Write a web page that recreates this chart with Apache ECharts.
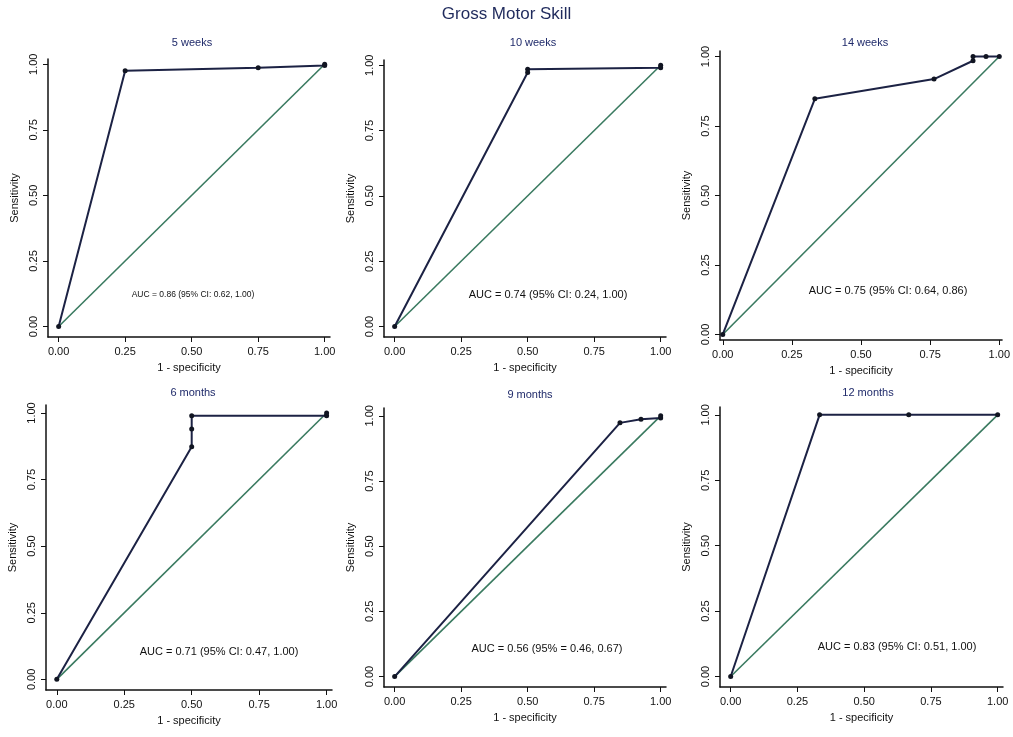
<!DOCTYPE html>
<html>
<head>
<meta charset="utf-8">
<title>Gross Motor Skill</title>
<script src="https://cdn.jsdelivr.net/npm/echarts@6/dist/echarts.min.js"></script>
<style>
  html, body { margin: 0; padding: 0; background: #fff; }
  #main { width: 1013px; height: 737px; }
</style>
</head>
<body>
<div id="main"></div>
<script>
// 各面板名称
var panelTitles = ['5 weeks', '10 weeks', '14 weeks', '6 months', '9 months', '12 months'];
// ROC 曲线数据 (1 - specificity)
var fpr5w = [0, 0.25, 0.75, 1, 1];
var fpr10w = [0, 0.5, 0.5, 1, 1];
var fpr14w = [0, 0.333, 0.764, 0.905, 0.905, 0.952, 1];
var fpr6m = [0, 0.5, 0.5, 0.5, 1, 1];
var fpr9m = [0, 0.847, 0.926, 1, 1];
var fpr12m = [0, 0.333, 0.667, 1];
// ROC 曲线数据 (sensitivity)
var sens5w = [0, 0.975, 0.987, 0.995, 1];
var sens10w = [0, 0.972, 0.985, 0.99, 1];
var sens14w = [0, 0.848, 0.919, 0.985, 1, 1, 1];
var sens6m = [0, 0.873, 0.94, 0.99, 0.99, 1];
var sens9m = [0, 0.973, 0.987, 0.992, 1];
var sens12m = [0, 1, 1, 1];
// 对角参考线
var refX = [0, 1];
var refY = [0, 1];
// AUC 文字
var aucTexts = [
  'AUC = 0.86 (95% CI: 0.62, 1.00)',
  'AUC = 0.74 (95% CI: 0.24, 1.00)',
  'AUC = 0.75 (95% CI: 0.64, 0.86)',
  'AUC = 0.71 (95% CI: 0.47, 1.00)',
  'AUC = 0.56 (95% = 0.46, 0.67)',
  'AUC = 0.83 (95% CI: 0.51, 1.00)'
];
// 刻度
var tickValues = [0, 0.25, 0.5, 0.75, 1];

(function() {
  var myChart = echarts.init(document.getElementById('main'));
  var fprList = [fpr5w, fpr10w, fpr14w, fpr6m, fpr9m, fpr12m];
  var sensList = [sens5w, sens10w, sens14w, sens6m, sens9m, sens12m];

  // 每个面板的位置 (像素) 和坐标轴范围
  var layout = [
    { left: 48, top: 59, width: 282, height: 278, xMin: -0.04, xMax: 1.02, yMin: -0.04, yMax: 1.02, tx: 192, ty: 43, ax: 193, ay: 295, afs: 8.5 },
    { left: 384, top: 60, width: 282, height: 277, xMin: -0.04, xMax: 1.02, yMin: -0.04, yMax: 1.02, tx: 533, ty: 43, ax: 548, ay: 295, afs: 11 },
    { left: 720, top: 51, width: 288, height: 289, xMin: -0.01, xMax: 1.01, yMin: -0.02, yMax: 1.02, tx: 865, ty: 43, ax: 888, ay: 291, afs: 11 },
    { left: 46, top: 405, width: 286, height: 285, xMin: -0.04, xMax: 1.02, yMin: -0.04, yMax: 1.03, tx: 193, ty: 393, ax: 219, ay: 652, afs: 11 },
    { left: 384, top: 408, width: 282, height: 279, xMin: -0.04, xMax: 1.02, yMin: -0.04, yMax: 1.03, tx: 530, ty: 395, ax: 547, ay: 649, afs: 11 },
    { left: 720, top: 407, width: 283, height: 280, xMin: -0.04, xMax: 1.02, yMin: -0.04, yMax: 1.03, tx: 868, ty: 393, ax: 897, ay: 647, afs: 11 }
  ];

  var grids = [], xAxes = [], yAxes = [], series = [];
  var graphics = [{
    type: 'text', left: 'center', top: 6,
    style: { text: 'Gross Motor Skill', fontSize: 17, fill: '#1f2a5c', fontFamily: 'Liberation Sans' }
  }];

  layout.forEach(function(p, i) {
    grids.push({ left: p.left, top: p.top, width: p.width, height: p.height });
    xAxes.push({
      type: 'value', gridIndex: i, min: p.xMin, max: p.xMax,
      name: '1 - specificity', nameLocation: 'middle', nameGap: 25,
      nameTextStyle: { fontSize: 11, color: '#111', fontFamily: 'Liberation Sans' },
      axisLine: { show: true, onZero: false, lineStyle: { color: '#111', width: 1.5 } },
      axisTick: { show: true, length: 5, customValues: tickValues, lineStyle: { color: '#111' } },
      axisLabel: {
        customValues: tickValues, margin: 9, fontSize: 11, color: '#111', fontFamily: 'Liberation Sans',
        formatter: function(v) { return v.toFixed(2); }
      },
      splitLine: { show: false }
    });
    yAxes.push({
      type: 'value', gridIndex: i, min: p.yMin, max: p.yMax,
      name: 'Sensitivity', nameLocation: 'middle', nameGap: 28,
      nameTextStyle: { fontSize: 11, color: '#111', fontFamily: 'Liberation Sans' },
      axisLine: { show: true, onZero: false, lineStyle: { color: '#111', width: 1.5 } },
      axisTick: { show: true, length: 5, customValues: tickValues, lineStyle: { color: '#111' } },
      axisLabel: {
        customValues: tickValues, rotate: 90, margin: 9, fontSize: 11, color: '#111', fontFamily: 'Liberation Sans',
        formatter: function(v) { return v.toFixed(2); }
      },
      splitLine: { show: false }
    });
    // 对角参考线
    series.push({
      type: 'line', xAxisIndex: i, yAxisIndex: i, showSymbol: false, silent: true,
      lineStyle: { color: '#3a7a60', width: 1.6 },
      data: refX.map(function(x, k) { return [x, refY[k]]; })
    });
    // ROC 曲线
    series.push({
      type: 'line', xAxisIndex: i, yAxisIndex: i,
      symbol: 'circle', symbolSize: 5, showAllSymbol: true,
      lineStyle: { color: '#1c2244', width: 2 },
      itemStyle: { color: '#111522' },
      data: fprList[i].map(function(x, k) { return [x, sensList[i][k]]; })
    });
    // 面板标题
    graphics.push({
      type: 'text', x: p.tx, y: p.ty,
      style: { text: panelTitles[i], fontSize: 11, fill: '#1f2a6a', fontFamily: 'Liberation Sans', align: 'center', verticalAlign: 'middle' }
    });
    // AUC 标注
    graphics.push({
      type: 'text', x: p.ax, y: p.ay,
      style: { text: aucTexts[i], fontSize: p.afs, fill: '#111', fontFamily: 'Liberation Sans', align: 'center', verticalAlign: 'middle' }
    });
  });

  var option = {
    backgroundColor: '#fff',
    animation: false,
    grid: grids,
    xAxis: xAxes,
    yAxis: yAxes,
    series: series,
    graphic: graphics
  };
  myChart.setOption(option);
  window.addEventListener('resize', function() {
    myChart.resize();
  });
})();
</script>
</body>
</html>
